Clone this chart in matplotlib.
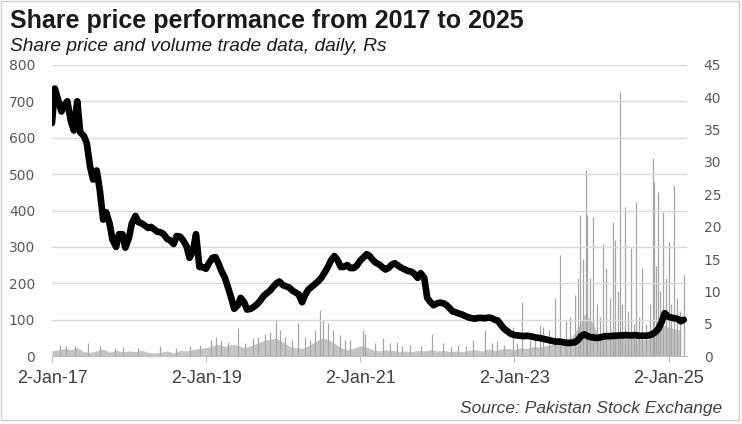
#Share price performance chart, 2017 - 2025

import numpy as np
import pandas as pd
import matplotlib
matplotlib.use('Agg')
import matplotlib.pyplot as plt
import matplotlib.dates as mdates
from matplotlib.patches import Rectangle

#Price data, read on the 1st and 15th of each month (Rs)
price_dates = pd.date_range('2017-01-01', periods=198, freq='SMS')
price = [640, 735, 700, 672, 690, 700, 645, 620, 700, 615,
         605, 585, 520, 485, 510, 460, 375, 395, 365, 320,
         300, 335, 335, 298, 325, 365, 385, 368, 365, 360,
         352, 355, 348, 342, 340, 335, 322, 318, 308, 330,
         328, 318, 302, 270, 290, 335, 245, 245, 240, 255,
         270, 272, 255, 235, 215, 190, 160, 130, 140, 160,
         148, 128, 130, 135, 143, 152, 165, 172, 180, 190,
         200, 205, 195, 192, 188, 180, 175, 170, 148, 168,
         183, 190, 198, 205, 215, 228, 245, 262, 275, 265,
         245, 245, 250, 242, 242, 248, 262, 270, 280, 275,
         265, 257, 252, 245, 238, 242, 252, 255, 248, 243,
         238, 234, 232, 226, 215, 228, 215, 160, 148, 140,
         145, 147, 145, 140, 132, 123, 120, 117, 114, 110,
         106, 104, 103, 105, 105, 104, 106, 105, 100, 98,
         85, 75, 68, 62, 58, 57, 56, 55, 56, 55,
         53, 51, 50, 48, 46, 44, 42, 40, 40, 39,
         37, 36, 37, 38, 45, 56, 60, 55, 52, 51,
         50, 52, 54, 55, 55, 56, 56, 57, 57, 58,
         57, 57, 58, 56, 56, 56, 57, 60, 66, 75,
         95, 118, 108, 106, 104, 102, 96, 100]

#Volume traded, monthly base level (millions of shares)
vol_dates = pd.date_range('2017-01-01', periods=99, freq='MS')
vol_base = [0.8, 1.0, 1.2, 1.0, 1.3, 0.7, 0.6, 0.8, 1.1, 0.6,
            0.9, 0.7, 0.8, 0.7, 0.9, 0.6, 0.5, 0.6, 0.8, 0.5,
            0.9, 0.8, 1.0, 1.2, 1.3, 1.6, 1.8, 1.5, 1.8, 1.7,
            1.3, 1.6, 2.0, 2.4, 2.6, 2.8, 2.2, 1.5, 1.3, 1.2,
            1.6, 2.2, 2.8, 2.6, 2.0, 1.3, 1.0, 1.2, 1.6, 1.4,
            1.0, 0.8, 1.0, 0.9, 0.7, 0.8, 0.7, 0.9, 0.8, 1.0,
            0.8, 0.9, 0.7, 0.8, 0.7, 0.9, 1.0, 0.8, 1.1, 0.9,
            1.1, 1.2, 1.0, 1.3, 1.2, 1.5, 1.4, 1.6, 1.8, 2.0,
            2.5, 3.0, 4.5, 6.5, 5.5, 3.5, 3.0, 2.8, 3.2, 2.8,
            3.0, 2.7, 2.5, 2.6, 4.0, 4.8, 4.5, 4.2, 4.0]

#Volume spikes (single days)
spike_dates = pd.to_datetime([
    '2017-02-08', '2017-03-10', '2017-04-20', '2017-06-21', '2017-08-17',
    '2017-10-27', '2017-12-05', '2018-02-12', '2018-05-28', '2018-08-10',
    '2018-10-17', '2018-12-04', '2019-01-25', '2019-02-17', '2019-03-13',
    '2019-04-15', '2019-06-02', '2019-07-05', '2019-08-12', '2019-09-04',
    '2019-10-08', '2019-10-31', '2019-11-29', '2019-12-18', '2020-01-10',
    '2020-02-14', '2020-03-12', '2020-04-16', '2020-05-08', '2020-06-01',
    '2020-06-24', '2020-07-09', '2020-08-01', '2020-08-25', '2020-09-27',
    '2020-10-20', '2020-11-14', '2021-01-15', '2021-01-25', '2021-03-13',
    '2021-04-20', '2021-05-23', '2021-06-25', '2021-07-20', '2021-08-26',
    '2021-10-15', '2021-12-08', '2022-01-29', '2022-03-10', '2022-04-11',
    '2022-05-16', '2022-06-21', '2022-08-17', '2022-09-20', '2022-10-12',
    '2022-11-15', '2022-12-27', '2023-01-16', '2023-02-08', '2023-03-18',
    '2023-04-12', '2023-05-04', '2023-05-18', '2023-06-14', '2023-07-14',
    '2023-08-07', '2023-09-04', '2023-09-25', '2023-10-17', '2023-10-31',
    '2023-11-10', '2023-11-24', '2023-12-08', '2023-12-13', '2023-12-27',
    '2024-01-10', '2024-01-29', '2024-02-12', '2024-02-27', '2024-03-12',
    '2024-03-31', '2024-04-14', '2024-04-24', '2024-05-08', '2024-05-17',
    '2024-05-27', '2024-06-10', '2024-06-24', '2024-07-09', '2024-07-20',
    '2024-08-01', '2024-08-16', '2024-08-30', '2024-09-18', '2024-10-07',
    '2024-10-21', '2024-10-26', '2024-11-04', '2024-11-14', '2024-11-23',
    '2024-12-07', '2024-12-22', '2025-01-06', '2025-01-15', '2025-01-29',
    '2025-02-13', '2025-02-27', '2025-03-18'])
spike_vals = [1.8, 1.5, 1.6, 2.0, 1.5,
              1.3, 1.4, 1.3, 1.5, 1.2,
              1.6, 1.8, 2.5, 3.0, 2.5,
              2.2, 4.3, 2.0, 2.8, 3.0,
              3.5, 3.8, 5.6, 4.0, 3.0,
              2.5, 5.1, 3.0, 2.5, 4.0,
              7.1, 5.6, 5.1, 4.0, 3.2,
              2.5, 2.5, 4.0, 3.5, 2.0,
              2.8, 2.0, 2.2, 1.5, 1.8,
              1.6, 3.5, 2.0, 1.4, 1.8,
              1.5, 2.5, 4.0, 2.0, 2.3,
              1.7, 4.5, 2.0, 8.3, 2.5,
              3.0, 4.8, 4.5, 4.0, 9.0,
              15.6, 5.5, 6.0, 9.4, 12.0,
              21.8, 15.0, 28.7, 21.8, 12.0,
              21.5, 8.0, 6.0, 17.4, 13.6,
              9.0, 20.7, 17.9, 10.0, 40.8,
              8.0, 23.0, 7.0, 16.7, 5.0,
              23.8, 6.0, 13.6, 5.0, 8.0,
              30.6, 26.9, 14.0, 25.3, 10.0,
              22.3, 12.0, 17.6, 8.0, 26.4,
              9.0, 7.0, 12.5]

xticks = pd.to_datetime(['2017-01-02', '2019-01-02', '2021-01-02', '2023-01-02', '2025-01-02'])

grey_txt = '#595959'

fig = plt.figure(figsize=(7.42, 4.24), dpi=100)
ax = fig.add_axes([0.070, 0.160, 0.856, 0.687])
ax2 = ax.twinx()

#Volume on the right axis
ax2.fill_between(vol_dates, 0, vol_base, color='#c4c4c4', lw=0)
ax2.vlines(spike_dates, 0, spike_vals, color='#a6a6a6', lw=0.9)
ax2.set_ylim(0, 45)
ax2.set_yticks(np.arange(0, 46, 5))

#Price on the left axis, drawn on top
ax.plot(price_dates, price, color='black', lw=4.8, solid_joinstyle='round', solid_capstyle='round')
ax.set_ylim(0, 800)
ax.set_yticks(np.arange(0, 801, 100))
ax.set_zorder(ax2.get_zorder() + 1)
ax.patch.set_visible(False)

ax.set_xlim(pd.Timestamp('2017-01-01'), pd.Timestamp('2025-03-31'))
ax.set_xticks(xticks)
ax.xaxis.set_major_formatter(mdates.DateFormatter('%-d-%b-%y'))

for a in (ax, ax2):
    for s in ('top', 'left', 'right'):
        a.spines[s].set_visible(False)
ax.spines['bottom'].set_color('#bfbfbf')
ax2.spines['bottom'].set_visible(False)

#Gridlines from the left axis
for yv in np.arange(100, 801, 100):
    ax.axhline(yv, color='#d9d9d9', lw=1.0, zorder=0)

ax.tick_params(axis='y', length=0, pad=12, labelsize=10, labelcolor=grey_txt)
ax2.tick_params(axis='y', length=0, pad=12, labelsize=10, labelcolor=grey_txt)
ax.tick_params(axis='x', length=4, color='#bfbfbf', pad=6, labelcolor='#404040')
for lbl in ax.get_xticklabels():
    lbl.set_fontfamily('Liberation Sans')
    lbl.set_fontsize(13)

#Titles and source
fig.text(0.013, 0.950, 'Share price performance from 2017 to 2025', fontsize=18,
         fontweight='bold', family='Liberation Sans', color='#1a1a1a', va='center')
fig.text(0.013, 0.891, 'Share price and volume trade data, daily, Rs', fontsize=13.8,
         style='italic', family='Liberation Sans', color='#1a1a1a', va='center')
fig.text(0.973, 0.037, 'Source: Pakistan Stock Exchange', fontsize=12.5,
         style='italic', family='Liberation Sans', color='#404040', ha='right', va='center')

#Chart frame
fig.patches.append(Rectangle((0.001, 0.010), 0.995, 0.988, transform=fig.transFigure,
                             fill=False, edgecolor='#d0d0d0', lw=1.0))

plt.savefig('out.png', dpi=100)
